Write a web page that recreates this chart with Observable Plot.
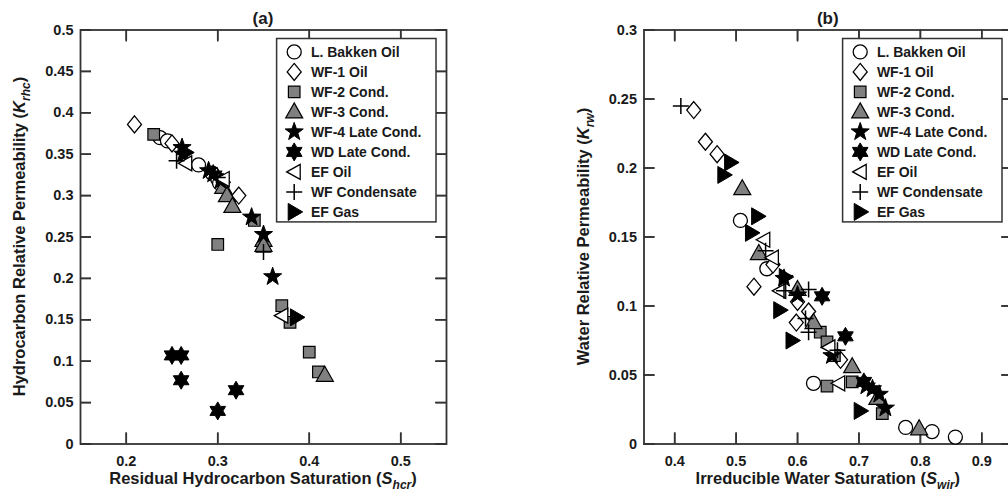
<!DOCTYPE html>
<html><head><meta charset="utf-8">
<script src="https://cdn.jsdelivr.net/npm/d3@7"></script>
<script src="https://cdn.jsdelivr.net/npm/@observablehq/plot@0.6"></script>
<style>
html,body{margin:0;padding:0;background:#fff;overflow:hidden;width:1008px;height:502px}
#wrap{position:relative;width:1008px;height:502px;overflow:hidden}
#wrap svg{position:absolute;top:0}
</style></head><body><div id="wrap"></div>
<script>
// ---------- DATA ----------
const seriesNames = ["L. Bakken Oil","WF-1 Oil","WF-2 Cond.","WF-3 Cond.","WF-4 Late Cond.","WD Late Cond.","EF Oil","WF Condensate","EF Gas"];

// Panel (a): [Shcr, Krhc]
const aBakken = [[0.237,0.370],[0.245,0.366],[0.279,0.337],[0.294,0.327],[0.300,0.320],[0.302,0.315]];
const aWF1    = [[0.209,0.386],[0.250,0.363],[0.306,0.316],[0.323,0.300]];
const aWF2    = [[0.230,0.374],[0.300,0.241],[0.340,0.270],[0.370,0.167],[0.379,0.147],[0.400,0.111],[0.410,0.087]];
const aWF3    = [[0.306,0.310],[0.310,0.300],[0.316,0.287],[0.350,0.246],[0.350,0.240],[0.417,0.083]];
const aWF4    = [[0.261,0.358],[0.262,0.350],[0.290,0.330],[0.295,0.326],[0.303,0.318],[0.337,0.274],[0.350,0.253],[0.360,0.202]];
const aWD     = [[0.250,0.107],[0.260,0.107],[0.260,0.077],[0.300,0.040],[0.320,0.065]];
const aEFOil  = [[0.265,0.339],[0.306,0.320],[0.370,0.155]];
const aWFCond = [[0.255,0.342],[0.300,0.322],[0.350,0.232]];
const aEFGas  = [[0.265,0.352],[0.386,0.153]];

// Panel (b): [Swir, Krw]
const bBakken = [[0.507,0.162],[0.550,0.127],[0.626,0.044],[0.776,0.012],[0.819,0.009],[0.857,0.005]];
const bWF1    = [[0.431,0.242],[0.450,0.219],[0.469,0.210],[0.529,0.114],[0.560,0.130],[0.598,0.088],[0.600,0.103],[0.618,0.096],[0.670,0.061]];
const bWF2    = [[0.637,0.081],[0.648,0.074],[0.648,0.042],[0.660,0.064],[0.689,0.045],[0.738,0.022]];
const bWF3    = [[0.510,0.185],[0.537,0.138],[0.600,0.112],[0.626,0.088],[0.689,0.056],[0.730,0.033],[0.798,0.011]];
const bWF4    = [[0.578,0.120],[0.600,0.108],[0.656,0.064],[0.712,0.042],[0.722,0.040],[0.733,0.036],[0.743,0.026]];
const bWD     = [[0.640,0.107],[0.678,0.078],[0.708,0.045]];
const bEFOil  = [[0.545,0.148],[0.559,0.135],[0.571,0.111],[0.651,0.070],[0.667,0.044]];
const bWFCond = [[0.410,0.245],[0.548,0.140],[0.578,0.111],[0.618,0.112],[0.613,0.091],[0.618,0.081],[0.665,0.068]];
const bEFGas  = [[0.480,0.195],[0.491,0.204],[0.525,0.153],[0.535,0.165],[0.571,0.097],[0.580,0.121],[0.591,0.075],[0.702,0.024]];

// Tick values
const aXTicks = [0.2,0.3,0.4,0.5];
const aYTicks = [0,0.05,0.1,0.15,0.2,0.25,0.3,0.35,0.4,0.45,0.5];
const bXTicks = [0.4,0.5,0.6,0.7,0.8,0.9];
const bYTicks = [0,0.05,0.1,0.15,0.2,0.25,0.3];

// ---------- SYMBOLS ----------
const K = s => Math.sqrt(s/Math.PI)/7;
const symCircle = {draw(c,s){const k=K(s); c.moveTo(7*k,0); c.arc(0,0,7*k,0,2*Math.PI); c.closePath();}};
const symDiamond = {draw(c,s){const k=K(s); c.moveTo(0,-8.5*k); c.lineTo(7*k,0); c.lineTo(0,8.5*k); c.lineTo(-7*k,0); c.closePath();}};
const symSquare = {draw(c,s){const k=K(s), h=5.8*k; c.moveTo(-h,-h); c.lineTo(h,-h); c.lineTo(h,h); c.lineTo(-h,h); c.closePath();}};
const symTriUp = {draw(c,s){const k=K(s); c.moveTo(0,-9*k); c.lineTo(8.5*k,6*k); c.lineTo(-8.5*k,6*k); c.closePath();}};
function starPts(c,n,ro,ri){for(let i=0;i<2*n;i++){const a=-Math.PI/2+i*Math.PI/n, r=i%2?ri:ro; const x=r*Math.cos(a), y=r*Math.sin(a); i?c.lineTo(x,y):c.moveTo(x,y);} c.closePath();}
const symStar5 = {draw(c,s){const k=K(s); starPts(c,5,9.5*k,3.8*k);}};
const symHex = {draw(c,s){const k=K(s); starPts(c,6,9*k,5.2*k);}};
const symTriLeft = {draw(c,s){const k=K(s); c.moveTo(-7.5*k,0); c.lineTo(6*k,-7.5*k); c.lineTo(6*k,7.5*k); c.closePath();}};
const symPlus = {draw(c,s){const k=K(s); c.moveTo(-8*k,0); c.lineTo(8*k,0); c.moveTo(0,-8*k); c.lineTo(0,8*k);}};
const symTriRight = {draw(c,s){const k=K(s); c.moveTo(8.5*k,0); c.lineTo(-6*k,-8.5*k); c.lineTo(-6*k,8.5*k); c.closePath();}};

const GRAY = "#808080";
const styles = [
  {symbol: symCircle,   fill: "white", stroke: "#000", sw: 1.3},
  {symbol: symDiamond,  fill: "white", stroke: "#000", sw: 1.3},
  {symbol: symSquare,   fill: GRAY,    stroke: "#000", sw: 1.2},
  {symbol: symTriUp,    fill: GRAY,    stroke: "#000", sw: 1.2},
  {symbol: symStar5,    fill: "#000",  stroke: "#000", sw: 1},
  {symbol: symHex,      fill: "#000",  stroke: "#000", sw: 1},
  {symbol: symTriLeft,  fill: "white", stroke: "#000", sw: 1.3},
  {symbol: symPlus,     fill: "none",  stroke: "#000", sw: 1.5},
  {symbol: symTriRight, fill: "#000",  stroke: "#000", sw: 1}
];

const fmt = d => d === 0 ? "0" : String(+d.toFixed(2));
const FONT = "'Liberation Sans', Arial, sans-serif";
const AX = "#333";
const INK = "#1a1a1a";

function panel(cfg){
  const W = cfg.width, H = 502, mt = 29.5, mb = 58.5, TL = 11;
  const ph = H - mt - mb, pw = W - cfg.ml - cfg.mr;
  const tickOpts = {tickSize: -TL, fill: "none", stroke: AX, strokeWidth: 1.6, label: null};
  const marks = [
    Plot.frame({stroke: AX, strokeWidth: 1.8}),
    // inward ticks on all four sides
    Plot.tickX(cfg.xTicks, {x: d => d, stroke: AX, strokeWidth: 1.6, insetTop: ph - TL}),
    Plot.tickX(cfg.xTicks, {x: d => d, stroke: AX, strokeWidth: 1.6, insetBottom: ph - TL}),
    Plot.ruleY(cfg.yTicks, {y: d => d, stroke: AX, strokeWidth: 1.6, insetRight: pw - TL}),
    Plot.ruleY(cfg.yTicks, {y: d => d, stroke: AX, strokeWidth: 1.6, insetLeft: pw - TL}),
    Plot.axisX({...tickOpts, ticks: cfg.xTicks, anchor: "bottom"}),
    Plot.axisX({...tickOpts, ticks: cfg.xTicks, anchor: "top"}),
    Plot.axisY({...tickOpts, ticks: cfg.yTicks, anchor: "left"}),
    Plot.axisY({...tickOpts, ticks: cfg.yTicks, anchor: "right"}),
    // tick labels
    Plot.axisX({ticks: cfg.xTicks, tickSize: 0, tickPadding: 12, tickFormat: fmt, label: null}),
    Plot.axisY({ticks: cfg.yTicks, tickSize: 0, tickPadding: 7, tickFormat: fmt, label: null})
  ];
  cfg.series.forEach((data, i) => {
    const st = styles[i];
    marks.push(Plot.dot(data, {x: d => d[0], y: d => d[1], symbol: st.symbol, r: 7,
      fill: st.fill, stroke: st.stroke, strokeWidth: st.sw}));
  });
  const svg = Plot.plot({
    width: W, height: H,
    marginLeft: cfg.ml, marginRight: cfg.mr, marginTop: mt, marginBottom: mb,
    x: {domain: cfg.xDomain}, y: {domain: cfg.yDomain},
    style: {fontFamily: FONT, fontSize: "14.5px", fontWeight: "bold", color: INK, background: "white"},
    marks
  });
  svg.style.left = cfg.left + "px";
  const g = d3.select(svg);
  const sx = svg.scale("x"), sy = svg.scale("y");
  const [x0, x1] = sx.range;
  const [y0, y1] = sy.range;
  const xc = (x0 + x1) / 2, yc = (y0 + y1) / 2;
  g.append("text").attr("x", xc).attr("y", y1 - 6).attr("text-anchor", "middle")
    .style("font-size", "17px").attr("fill", INK).text(cfg.title);
  const xl = g.append("text").attr("x", xc).attr("y", y0 + 40).attr("text-anchor", "middle")
    .style("font-size", "16.5px").attr("fill", INK);
  xl.append("tspan").text(cfg.xLabel + " (");
  xl.append("tspan").style("font-style", "italic").text(cfg.xSym);
  xl.append("tspan").attr("dy", 5).style("font-style", "italic").style("font-size", "12px").text(cfg.xSub);
  xl.append("tspan").attr("dy", -5).text(")");
  const yl = g.append("text").attr("transform", `translate(${x0 - 55},${yc}) rotate(-90)`)
    .attr("text-anchor", "middle").style("font-size", "16.5px").attr("fill", INK);
  yl.append("tspan").text(cfg.yLabel + " (");
  yl.append("tspan").style("font-style", "italic").text(cfg.ySym);
  yl.append("tspan").attr("dy", 5).style("font-style", "italic").style("font-size", "12px").text(cfg.ySub);
  yl.append("tspan").attr("dy", -5).text(")");
  const lw = 159.4, lh = 183.4, lx = x1 - 10 - lw, ly = y1 + 9;
  const lg = g.append("g");
  lg.append("rect").attr("x", lx).attr("y", ly).attr("width", lw).attr("height", lh)
    .attr("fill", "white").attr("stroke", AX).attr("stroke-width", 1.5);
  seriesNames.forEach((name, i) => {
    const st = styles[i], cy = ly + 13.4 + i * 20;
    lg.append("path").attr("transform", `translate(${lx + 17.6},${cy})`)
      .attr("d", d3.symbol(st.symbol, Math.PI * 49)())
      .attr("fill", st.fill).attr("stroke", st.stroke).attr("stroke-width", st.sw);
    lg.append("text").attr("x", lx + 34.3).attr("y", cy).attr("dy", "0.36em")
      .attr("text-anchor", "start")
      .style("font-size", "14px").attr("fill", INK).text(name);
  });
  document.getElementById("wrap").appendChild(svg);
}

panel({
  left: 0, width: 500, ml: 80, mr: 54,
  xDomain: [0.15, 0.55], yDomain: [0, 0.5], xTicks: aXTicks, yTicks: aYTicks,
  series: [aBakken, aWF1, aWF2, aWF3, aWF4, aWD, aEFOil, aWFCond, aEFGas],
  title: "(a)",
  xLabel: "Residual Hydrocarbon Saturation", xSym: "S", xSub: "hcr",
  yLabel: "Hydrocarbon Relative Permeability", ySym: "K", ySub: "rhc"
});
panel({
  left: 504, width: 520, ml: 139.5, mr: 12,
  xDomain: [0.35, 0.95], yDomain: [0, 0.3], xTicks: bXTicks, yTicks: bYTicks,
  series: [bBakken, bWF1, bWF2, bWF3, bWF4, bWD, bEFOil, bWFCond, bEFGas],
  title: "(b)",
  xLabel: "Irreducible Water Saturation", xSym: "S", xSub: "wir",
  yLabel: "Water Relative Permeability", ySym: "K", ySub: "rw"
});
</script></body></html>
